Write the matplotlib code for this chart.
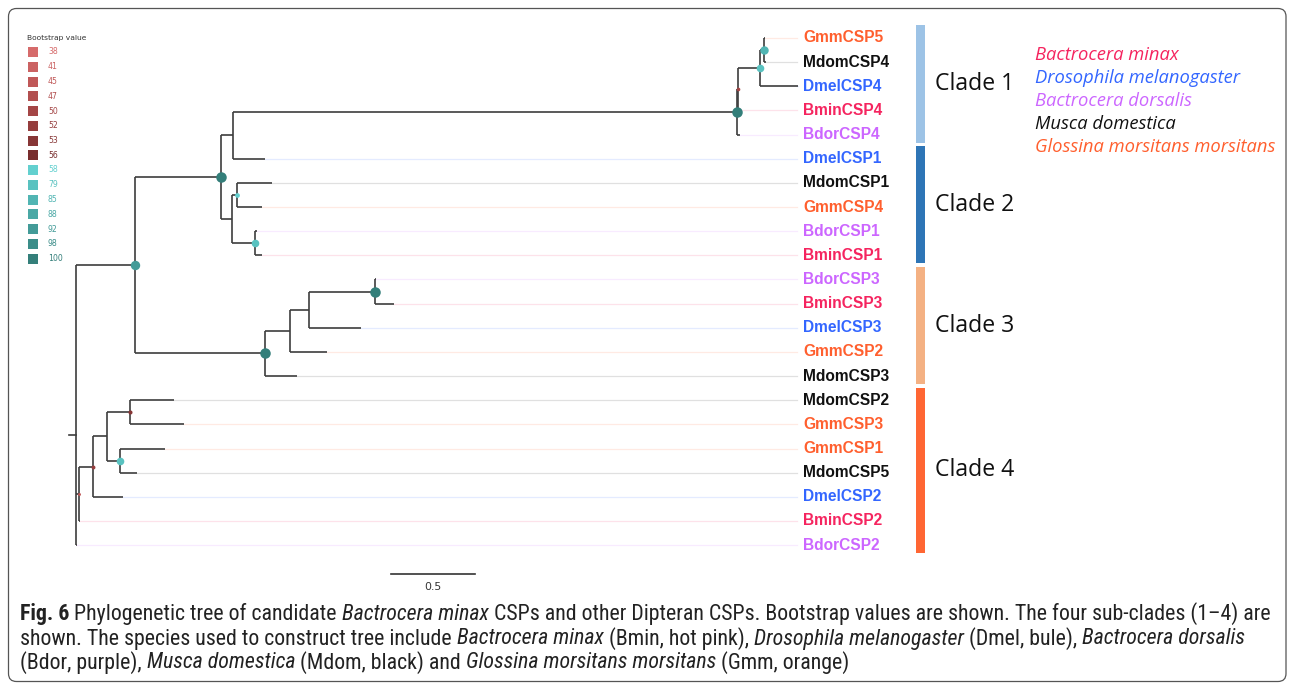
import matplotlib
matplotlib.use('Agg')
import matplotlib.pyplot as plt
from matplotlib.patches import FancyBboxPatch, Rectangle
from matplotlib import font_manager

# ---- tree data: node, parent, branch length (substitutions/site) ----
nodes = ['root', 'A', 'B', 'BdorCSP2', 'C', 'BminCSP2', 'D', 'DmelCSP2', 'E', 'F',
         'MdomCSP2', 'GmmCSP3', 'GmmCSP1', 'MdomCSP5', 'G', 'H', 'L', 'M', 'N', 'DmelCSP1',
         'Q', 'BdorCSP4', 'O', 'BminCSP4', 'R', 'DmelCSP4', 'GmmCSP5', 'MdomCSP4',
         'S', 'T', 'MdomCSP1', 'GmmCSP4', 'BdorCSP1', 'BminCSP1', 'I', 'MdomCSP3',
         'J', 'GmmCSP2', 'K', 'DmelCSP3', 'BdorCSP3', 'BminCSP3']
parents = [None, 'root', 'root', 'root', 'B', 'B', 'C', 'C', 'D', 'D',
           'E', 'E', 'F', 'F', 'A', 'A', 'G', 'G', 'L', 'L',
           'N', 'N', 'Q', 'Q', 'O', 'O', 'R', 'R',
           'M', 'M', 'S', 'S', 'T', 'T', 'H', 'H',
           'I', 'I', 'J', 'J', 'K', 'K']
branch_len = [0.0, 0.351, 0.018, 0.005, 0.083, 0.005, 0.083, 0.179, 0.137, 0.077,
              0.262, 0.321, 0.268, 0.101, 0.512, 0.774, 0.071, 0.065, 3.000, 0.190,
              0.006, 0.018, 0.131, 0.006, 0.024, 0.226, 0.006, 0.012,
              0.030, 0.137, 0.208, 0.149, 0.012, 0.042, 0.149, 0.190,
              0.113, 0.220, 0.393, 0.310, 0.006, 0.113]

leaf_order = ['GmmCSP5', 'MdomCSP4', 'DmelCSP4', 'BminCSP4', 'BdorCSP4',
              'DmelCSP1', 'MdomCSP1', 'GmmCSP4', 'BdorCSP1', 'BminCSP1',
              'BdorCSP3', 'BminCSP3', 'DmelCSP3', 'GmmCSP2', 'MdomCSP3',
              'MdomCSP2', 'GmmCSP3', 'GmmCSP1', 'MdomCSP5', 'DmelCSP2',
              'BminCSP2', 'BdorCSP2']

support_nodes = ['G', 'H', 'K', 'N', 'A', 'O', 'R', 'T', 'F', 'S', 'Q', 'B', 'C', 'E']
support_values = [100, 100, 100, 100, 92, 79, 85, 79, 79, 58, 50, 45, 52, 53]

legend_values = [38, 41, 45, 47, 50, 52, 53, 56, 58, 79, 85, 88, 92, 98, 100]
legend_colors = ['#d66b6b', '#cb6262', '#c05858', '#b24f4f', '#a44646', '#953d3d',
                 '#873636', '#782d2d', '#63d0cf', '#59c2c0', '#51b5b3', '#4aa8a5',
                 '#439b98', '#3b8d89', '#347f7a']

clades = ['Clade 1', 'Clade 2', 'Clade 3', 'Clade 4']
clade_first = [0, 5, 10, 15]
clade_last = [4, 9, 14, 21]
clade_colors = ['#9dc3e6', '#2e75b6', '#f4b183', '#ff6633']

species_prefix = ['Bmin', 'Dmel', 'Bdor', 'Mdom', 'Gmm']
species_names = ['Bactrocera minax', 'Drosophila melanogaster', 'Bactrocera dorsalis',
                 'Musca domestica', 'Glossina morsitans morsitans']
species_colors = ['#f5245f', '#3366ff', '#cc66ff', '#111111', '#ff5f2e']

scale_len = 0.5

# ---- build coordinates ----
children = {n: [] for n in nodes}
for n, p in zip(nodes, parents):
    if p is not None:
        children[p].append(n)
blen = dict(zip(nodes, branch_len))

xpos = {}
def set_x(n, x0):
    xpos[n] = x0
    for c in children[n]:
        set_x(c, x0 + blen[c])
set_x('root', 0.0)

ypos = {}
def set_y(n):
    if not children[n]:
        ypos[n] = leaf_order.index(n)
    else:
        ypos[n] = sum(set_y(c) for c in children[n]) / len(children[n])
    return ypos[n]
set_y('root')

def sp_color(name):
    for pre, col in zip(species_prefix, species_colors):
        if name.startswith(pre):
            return col
    return '#111111'

W, H = 1295, 689
fig = plt.figure(figsize=(W / 100, H / 100), dpi=100)

# tree axes: 1 unit = 168 px, root at x=76 px; leaves start at 38 px, 24.15 px apart
ax = fig.add_axes([0, 0, 1, 1])
ax.set_xlim(-76 / 168, (W - 76) / 168)
ax.set_ylim((H - 38) / 24.15, -38 / 24.15)
ax.axis('off')

tree_col = '#3d3d3d'
for n in nodes:
    kids = children[n]
    if not kids:
        continue
    ys = [ypos[c] for c in kids]
    ax.plot([xpos[n], xpos[n]], [min(ys), max(ys)], color=tree_col, lw=1.2,
            solid_capstyle='butt', zorder=3)
    for c in kids:
        ax.plot([xpos[n], xpos[c]], [ypos[c], ypos[c]], color=tree_col, lw=1.2,
                solid_capstyle='butt', zorder=3)
ax.plot([-0.042, 0], [ypos['root'], ypos['root']], color=tree_col, lw=1.2, zorder=3)

label_x = 4.33
for leaf in leaf_order:
    col = sp_color(leaf)
    ax.plot([xpos[leaf], label_x - 0.04], [ypos[leaf], ypos[leaf]], color=col,
            lw=0.9, alpha=0.13, zorder=2)
    ax.text(label_x, ypos[leaf], leaf, color=col, fontsize=11.2, fontweight='bold',
            family=['Liberation Sans', 'DejaVu Sans'], ha='left', va='center')

# bootstrap circles
def boot_color(v):
    best = min(range(len(legend_values)), key=lambda i: abs(legend_values[i] - v))
    return legend_colors[best]

for n, v in zip(support_nodes, support_values):
    d = 2 + (v - 38) / 62 * 8.5
    ax.scatter(xpos[n], ypos[n], s=(d * 0.72) ** 2, color=boot_color(v), zorder=5,
               linewidths=0)

# clade bars
for name, a, b, col in zip(clades, clade_first, clade_last, clade_colors):
    bot = a - 0.52
    top = b + 0.33
    ax.bar(5.027, top - bot, bottom=bot, width=0.054, color=col, zorder=2)
    ax.text(5.115, (bot + top) / 2, name, fontsize=16.6, va='center', ha='left',
            family=['Open Sans', 'DejaVu Sans'], color='#111111')

# scale bar
ax.plot([1.875, 1.875 + scale_len], [22.2, 22.2], color='#333333', lw=1.2)
ax.text(1.875 + scale_len / 2, 22.75, str(scale_len), fontsize=7.8, ha='center',
        va='center', color='#333333')

# ---- decorations in pixel coordinates ----
px = fig.add_axes([0, 0, 1, 1], zorder=-1)
px.set_xlim(0, W)
px.set_ylim(H, 0)
px.axis('off')
px.patch.set_alpha(0)

px.add_patch(FancyBboxPatch((8.5, 8.5), W - 17.5, H - 16, boxstyle='round,pad=0,rounding_size=8',
                            fill=False, ec='#555555', lw=0.9))

px.text(27, 38, 'Bootstrap value', fontsize=5.4, va='center', color='#333333')
for k, (v, col) in enumerate(zip(legend_values, legend_colors)):
    yc = 52 + k * 14.75
    px.add_patch(Rectangle((28, yc - 5), 10, 10, color=col, lw=0))
    px.text(48, yc, str(v), fontsize=5.6, va='center', color=col)

for k, (nm, col) in enumerate(zip(species_names, species_colors)):
    px.text(1035, 55 + k * 22.9, nm, fontsize=13.2, style='italic', color=col,
            va='center', family=['Open Sans', 'DejaVu Sans'])

# caption with mixed styles
cap_lines = [
    [('Fig. 6', 'bold'), (' Phylogenetic tree of candidate ', 'n'), ('Bactrocera minax', 'i'),
     (' CSPs and other Dipteran CSPs. Bootstrap values are shown. The four sub-clades (1\u20134) are', 'n')],
    [('shown. The species used to construct tree include ', 'n'), ('Bactrocera minax', 'i'),
     (' (Bmin, hot pink), ', 'n'), ('Drosophila melanogaster', 'i'), (' (Dmel, bule), ', 'n'),
     ('Bactrocera dorsalis', 'i')],
    [('(Bdor, purple), ', 'n'), ('Musca domestica', 'i'), (' (Mdom, black) and ', 'n'),
     ('Glossina morsitans morsitans', 'i'), (' (Gmm, orange)', 'n')],
]
cap_y = [614, 639, 663]

cap_family = 'DejaVu Sans'
for fam in ['Liberation Sans Narrow', 'Roboto Condensed', 'Open Sans']:
    try:
        font_manager.findfont(font_manager.FontProperties(family=fam), fallback_to_default=False)
        cap_family = fam
        break
    except Exception:
        pass

renderer = fig.canvas.get_renderer()

def draw_line(segs, y, size, draw=True):
    x = 20
    for txt, st in segs:
        kw = dict(fontsize=size, va='center', ha='left', color='#222222', family=cap_family)
        if st == 'bold':
            kw['fontweight'] = 'bold'
        elif st == 'i':
            kw['style'] = 'italic'
        t = px.text(x, y, txt.replace(' ', '\u00a0'), **kw)
        bb = t.get_window_extent(renderer)
        x += bb.width
        if not draw:
            t.remove()
    return x - 20

w0 = draw_line(cap_lines[0], cap_y[0], 12, draw=False)
cap_size = 12 * 1250 / w0
for segs, y in zip(cap_lines, cap_y):
    draw_line(segs, y, cap_size)

fig.savefig('out.png', dpi=100, facecolor='white')
